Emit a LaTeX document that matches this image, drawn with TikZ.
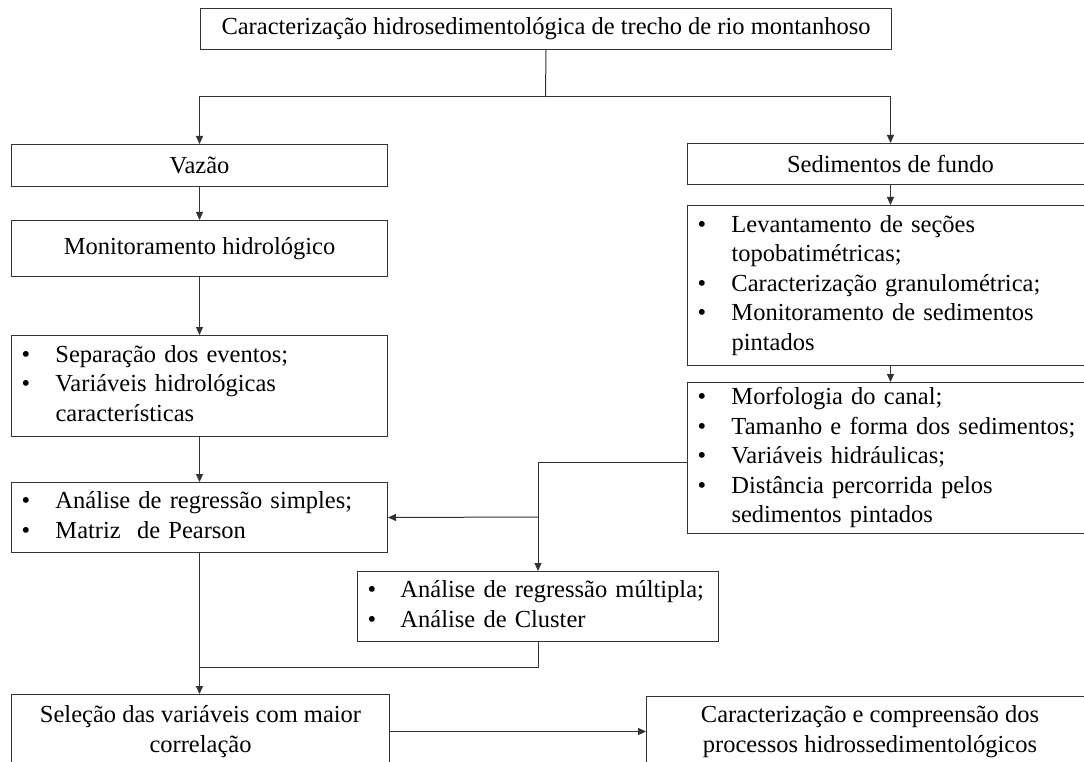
\documentclass[tikz,border=0pt]{standalone}
\usepackage{fontspec}
\setmainfont{Liberation Serif}
\usetikzlibrary{arrows.meta}
\begin{document}
\begin{tikzpicture}[x=1pt,y=-1pt,
  box/.style={draw=black!80, line width=1pt, fill=white,
    font=\fontsize{24.5}{29.5}\selectfont, inner sep=0pt, anchor=north west},
  cbox/.style={box, align=center},
  lbox/.style={box, align=left, inner xsep=10pt},
  ln/.style={draw=black!80, line width=1pt},
  arr/.style={ln, -{Triangle[length=8pt,width=7pt]}}]
\useasboundingbox[fill=white] (0,0) rectangle (1084,762);

% boxes
\node[cbox, minimum width=691pt, minimum height=41pt] (title) at (200,8)
  {Caracterização hidrosedimentológica de trecho de rio montanhoso};
\node[cbox, minimum width=376pt, minimum height=42pt] (vazao) at (11,144) {Vazão};
\node[cbox, minimum width=406pt, minimum height=41pt] (sed) at (687,143) {Sedimentos de fundo};
\node[cbox, minimum width=376pt, minimum height=56pt] (monit) at (11,220) {Monitoramento hidrológico};
\node[lbox, text width=356pt, minimum height=101pt] (sep) at (11,335)
  {\noindent\begin{tabular}{@{}p{34pt}@{}l@{}}
   • & Separação dos eventos;\\
   • & Variáveis hidrológicas\\
     & características
  \end{tabular}};
\node[lbox, text width=356pt, minimum height=70pt] (reg) at (11,482)
  {\noindent\begin{tabular}{@{}p{34pt}@{}l@{}}
   • & Análise de regressão simples;\\
   • & Matriz\ \ de Pearson
  \end{tabular}};
\node[lbox, text width=386pt, minimum height=160pt] (lev) at (687,205)
  {\noindent\begin{tabular}{@{}p{34pt}@{}l@{}}
   • & Levantamento de seções\\
     & topobatimétricas;\\
   • & Caracterização granulométrica;\\
   • & Monitoramento de sedimentos\\
     & pintados
  \end{tabular}};
\node[lbox, text width=386pt, minimum height=151pt] (morf) at (687,382)
  {\noindent\begin{tabular}{@{}p{34pt}@{}l@{}}
   • & Morfologia do canal;\\
   • & Tamanho e forma dos sedimentos;\\
   • & Variáveis hidráulicas;\\
   • & Distância percorrida pelos\\
     & sedimentos pintados
  \end{tabular}};
\node[lbox, text width=341pt, minimum height=70pt] (mult) at (357,571)
  {\noindent\begin{tabular}{@{}p{33pt}@{}l@{}}
   • & Análise de regressão múltipla;\\
   • & Análise de Cluster
  \end{tabular}};
\node[cbox, minimum width=378pt, minimum height=74pt] (sel) at (11,694)
  {Seleção das variáveis com maior\\correlação};
\node[cbox, minimum width=447pt, minimum height=70pt] (car) at (646,696)
  {Caracterização e compreensão dos\\processos hidrossedimentológicos};

% connectors
\coordinate (split) at (545.5,97);
\draw[ln] (title.south) -- (split);
\draw[arr] (split) -| (vazao.north);
\draw[arr] (split) -| (sed.north);
\draw[arr] (vazao.south) -- (monit.north);
\draw[arr] (monit.south) -- (sep.north);
\draw[arr] (sep.south) -- (reg.north);
\draw[arr] (sed.south) -- (lev.north);
\draw[arr] (lev.south) -- (morf.north);
\coordinate (jn) at (538,517);
\draw[ln] ([yshift=-4.5pt]morf.west) -| (jn);
\draw[arr] (jn) -- (reg.east);
\draw[arr] (jn) -- (mult.north);
\coordinate (jn2) at (199,667);
\draw[ln] (mult.south) |- (jn2);
\draw[arr] (reg.south) -- (reg.south |- sel.north);
\draw[arr] (sel.east) -- (car.west);
\end{tikzpicture}
\end{document}
